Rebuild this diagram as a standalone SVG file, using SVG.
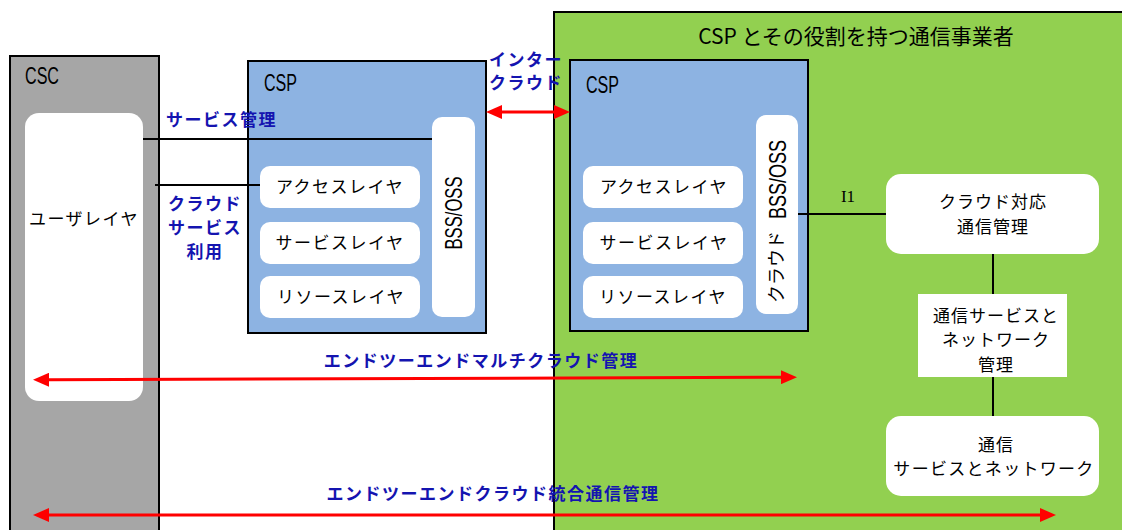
<svg xmlns="http://www.w3.org/2000/svg" width="1122" height="530" viewBox="0 0 1122 530">
<style>
.box{stroke:#000;stroke-width:2}
.w{fill:#fff}
.jp{font-family:"Noto Sans CJK JP","Noto Sans",sans-serif;font-size:17px;letter-spacing:1.5px;fill:#000}
.lbl{font-family:"Noto Sans CJK JP","Noto Sans",sans-serif;font-size:17px;font-weight:bold;letter-spacing:1.5px;fill:#1414b0}
.lat{font-family:"Liberation Sans",Arial,sans-serif;font-size:24px;fill:#000}
.ln{stroke:#000;stroke-width:2;fill:none}
.ra{stroke:#ff0000;stroke-width:3;fill:none;marker-start:url(#ah);marker-end:url(#ah)}
.mid{text-anchor:middle}
</style>
<defs>
<marker id="ah" viewBox="0 0 16 14" refX="0" refY="7" markerWidth="16" markerHeight="14" markerUnits="userSpaceOnUse" orient="auto-start-reverse">
<path d="M0,0 L16,7 L0,14 z" fill="#ff0000"/>
</marker>
</defs>
<rect width="1122" height="530" fill="#fff"/>

<g id="csc">
<rect class="box" x="10" y="56" width="149" height="480" fill="#a6a6a6"/>
<text class="lat" x="25" y="84" textLength="34" lengthAdjust="spacingAndGlyphs">CSC</text>
</g>
<g id="user-layer">
<rect class="w" x="25" y="113" width="118" height="288" rx="14"/>
<text class="jp mid" x="84" y="225">ユーザレイヤ</text>
</g>

<g id="telco">
<rect class="box" x="554" y="12" width="570" height="530" fill="#92d050"/>
<text class="jp mid" x="856" y="44" style="font-size:21px;letter-spacing:0px">CSP とその役割を持つ通信事業者</text>
</g>

<g id="csp-left">
<rect class="box" x="248" y="61" width="238" height="272" fill="#8db3e2"/>
<text class="lat" x="264" y="91" textLength="33" lengthAdjust="spacingAndGlyphs">CSP</text>
</g>
<g id="bss-left">
<rect class="w" x="432" y="117" width="43" height="200" rx="10"/>
<text class="lat mid" transform="translate(453,213) rotate(-90)" x="0" y="8.5" textLength="73" lengthAdjust="spacingAndGlyphs">BSS/OSS</text>
</g>
<g id="access-left">
<rect class="w" x="260" y="166" width="160" height="42" rx="10"/>
<text class="jp mid" x="340" y="193">アクセスレイヤ</text>
</g>
<g id="service-left">
<rect class="w" x="260" y="222" width="160" height="42" rx="10"/>
<text class="jp mid" x="340" y="249">サービスレイヤ</text>
</g>
<g id="resource-left">
<rect class="w" x="260" y="276" width="160" height="42" rx="10"/>
<text class="jp mid" x="341" y="303">リソースレイヤ</text>
</g>

<g id="csp-right">
<rect class="box" x="570" y="60" width="238" height="271" fill="#8db3e2"/>
<text class="lat" x="586" y="93" textLength="33" lengthAdjust="spacingAndGlyphs">CSP</text>
</g>
<g id="bss-right">
<rect class="w" x="756" y="115" width="42" height="199" rx="10"/>
<g transform="translate(777,221) rotate(-90)">
<text class="jp" x="-82" y="6" style="font-size:18px;letter-spacing:0px">クラウド</text>
<text class="lat" x="2" y="8.5" textLength="79" lengthAdjust="spacingAndGlyphs">BSS/OSS</text>
</g>
</g>
<g id="access-right">
<rect class="w" x="583" y="166" width="160" height="42" rx="10"/>
<text class="jp mid" x="664" y="193">アクセスレイヤ</text>
</g>
<g id="service-right">
<rect class="w" x="583" y="222" width="160" height="42" rx="10"/>
<text class="jp mid" x="664" y="249">サービスレイヤ</text>
</g>
<g id="resource-right">
<rect class="w" x="583" y="276" width="160" height="42" rx="10"/>
<text class="jp mid" x="663" y="303">リソースレイヤ</text>
</g>

<g id="cloud-comm-mgmt">
<rect class="w" x="886" y="174" width="213" height="80" rx="15"/>
<text class="jp mid" x="993" y="208" style="letter-spacing:1px">クラウド対応</text>
<text class="jp mid" x="993" y="233" style="letter-spacing:1px">通信管理</text>
</g>
<g id="comm-net-mgmt">
<rect class="w" x="918" y="294" width="149" height="83"/>
<text class="jp mid" x="996" y="322" style="letter-spacing:1px">通信サービスと</text>
<text class="jp mid" x="996" y="346" style="letter-spacing:1px">ネットワーク</text>
<text class="jp mid" x="996" y="371" style="letter-spacing:1px">管理</text>
</g>
<g id="comm-net">
<rect class="w" x="886" y="416" width="213" height="80" rx="15"/>
<text class="jp mid" x="996" y="451" style="letter-spacing:1px">通信</text>
<text class="jp mid" x="994" y="475" style="letter-spacing:1.3px">サービスとネットワーク</text>
</g>

<g id="connectors">
<line class="ln" x1="143" y1="139" x2="432" y2="139"/>
<line class="ln" x1="155" y1="185" x2="260" y2="185"/>
<line class="ln" x1="798" y1="214" x2="886" y2="214"/>
<line class="ln" x1="993" y1="254" x2="993" y2="294"/>
<line class="ln" x1="993" y1="377" x2="993" y2="416"/>
<path class="ra" d="M502,112 L554,112"/>
<path class="ra" d="M49,379.8 L781,377.2"/>
<path class="ra" d="M49,515 L1040,515"/>
<text x="848" y="202" text-anchor="middle" font-family="Liberation Serif,serif" font-size="17" fill="#000">I1</text>
<text class="lbl" x="166" y="126">サービス管理</text>
<text class="lbl mid" x="205" y="210">クラウド</text>
<text class="lbl mid" x="205" y="234">サービス</text>
<text class="lbl mid" x="205" y="258">利用</text>
<text class="lbl mid" x="526" y="66">インター</text>
<text class="lbl mid" x="526" y="89">クラウド</text>
<text class="lbl mid" x="481" y="367">エンドツーエンドマルチクラウド管理</text>
<text class="lbl mid" x="493" y="500">エンドツーエンドクラウド統合通信管理</text>
</g>
</svg>
